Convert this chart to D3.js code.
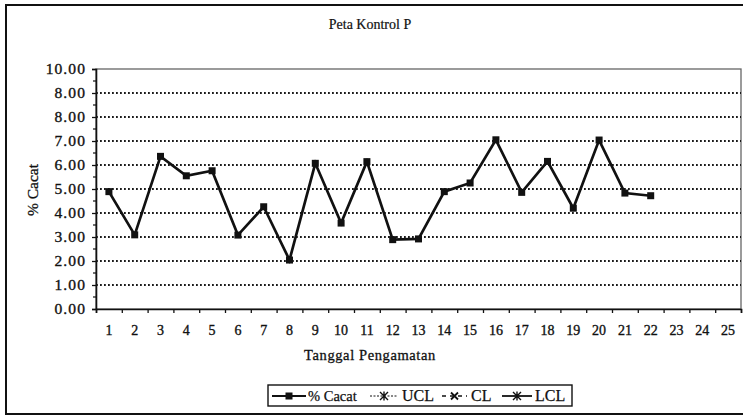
<!DOCTYPE html>
<html><head><meta charset="utf-8">
<script src="https://cdn.jsdelivr.net/npm/d3@7/dist/d3.min.js"></script>
<style>
html,body{margin:0;padding:0;background:#fff;}
svg{display:block;font-family:"Liberation Serif","Times New Roman",serif;}
</style></head>
<body>
<svg id="c" width="743" height="416"></svg>
<script>
const days = d3.range(1, 26); // Tanggal 1..25
const cacat = [4.89, 3.09, 6.36, 5.55, 5.76, 3.08, 4.26, 2.04, 6.07, 3.58, 6.14, 2.89,
               2.92, 4.89, 5.25, 7.05, 4.86, 6.15, 4.20, 7.04, 4.83, 4.72];
const ucl = [], cl = [], lcl = [];
const yTickValues = [0,1,2,3,4,5,6,7,8,9,10];
const yTickLabels = ["0.00","1.00","2.00","3.00","4.00","5.00","6.00","7.00","8.00","8.00","10.00"];
const legendNames = ["% Cacat","UCL","CL","LCL"];

const svg = d3.select("#c");
const L = 96, R = 741, T = 69, B = 309;
const ink = "#111";

// outer frame
svg.append("rect").attr("x",6).attr("y",5).attr("width",745).attr("height",409)
  .attr("fill","none").attr("stroke",ink).attr("stroke-width",2);

const x = d3.scaleLinear().domain([0.5, 25.5]).range([L, R]);
const y = d3.scaleLinear().domain([0, 10]).range([B, T]);

// plot border (top/right grey)
svg.append("rect").attr("x",L).attr("y",T).attr("width",R-L).attr("height",B-T)
  .attr("fill","none").attr("stroke","#666").attr("stroke-width",1.3);

// gridlines
svg.append("g").selectAll("line").data(yTickValues.filter(v => v>0 && v<10)).join("line")
  .attr("x1",L).attr("x2",R).attr("y1",d=>y(d)).attr("y2",d=>y(d))
  .attr("stroke","#1a1a1a").attr("stroke-width",1.8).attr("stroke-dasharray","1.8,2.2");

// y axis
const yAxis = svg.append("g").attr("transform",`translate(${L},0)`)
  .call(d3.axisLeft(y).tickValues(yTickValues).tickFormat((d,i)=>yTickLabels[i]).tickSize(4).tickPadding(6));
yAxis.select(".domain").attr("stroke",ink).attr("stroke-width",1.6);
yAxis.selectAll(".tick line").attr("stroke",ink).attr("stroke-width",1.3);
yAxis.selectAll("text").attr("font-family","Liberation Serif, serif").attr("font-size",15.5)
  .attr("letter-spacing","1.1px").attr("fill",ink).attr("stroke",ink).attr("stroke-width",0.35);
svg.append("g").selectAll("line").data(d3.range(0.5,10,1)).join("line")
  .attr("x1",L-3).attr("x2",L).attr("y1",d=>y(d)).attr("y2",d=>y(d))
  .attr("stroke",ink).attr("stroke-width",1.2);

// x axis
const xAxis = svg.append("g").attr("transform",`translate(0,${B})`)
  .call(d3.axisBottom(x).tickValues(d3.range(0.5, 26, 1)).tickFormat("").tickSize(4));
xAxis.select(".domain").attr("stroke",ink).attr("stroke-width",1.6);
xAxis.selectAll(".tick line").attr("stroke",ink).attr("stroke-width",1.3);
svg.append("g").selectAll("text").data(days).join("text")
  .attr("x",d=>x(d)).attr("y",B+26).attr("text-anchor","middle")
  .attr("font-size",14).attr("fill",ink).attr("stroke",ink).attr("stroke-width",0.35).text(d=>d);

// series
const line = d3.line().x((d,i)=>x(days[i])).y(d=>y(d));
svg.append("path").datum(cacat).attr("d",line).attr("fill","none")
  .attr("stroke",ink).attr("stroke-width",2.7).attr("stroke-linejoin","miter");
svg.append("g").selectAll("rect").data(cacat).join("rect")
  .attr("x",(d,i)=>x(days[i])-3.5).attr("y",d=>y(d)-3.5).attr("width",7).attr("height",7)
  .attr("fill",ink);

// titles
svg.append("text").attr("x",370).attr("y",29).attr("text-anchor","middle")
  .attr("font-size",14).attr("fill",ink).attr("stroke",ink).attr("stroke-width",0.2).text("Peta Kontrol P");
svg.append("text").attr("x",370).attr("y",360).attr("text-anchor","middle")
  .attr("font-size",14.5).attr("letter-spacing","0.6px").attr("fill",ink)
  .attr("stroke",ink).attr("stroke-width",0.3).text("Tanggal Pengamatan");
svg.append("text").attr("transform","translate(38,190) rotate(-90)").attr("text-anchor","middle")
  .attr("font-size",15.5).attr("fill",ink).attr("stroke",ink).attr("stroke-width",0.3).text("% Cacat");

// legend
const lg = svg.append("g");
lg.append("rect").attr("x",268).attr("y",385).attr("width",304).attr("height",21)
  .attr("fill","#fff").attr("stroke",ink).attr("stroke-width",1.4);
const items = [
  {name:legendNames[0], x0:272, x1:306, tx:308, dash:null, w:2.2, mk:"sq"},
  {name:legendNames[1], x0:370, x1:398, tx:402, dash:"2,1.5", w:1, mk:"star"},
  {name:legendNames[2], x0:442, x1:467, tx:471, dash:"4,4", w:1.5, mk:"x"},
  {name:legendNames[3], x0:502, x1:532, tx:535, dash:null, w:1.8, mk:"star"}
];
const ly = 396;
items.forEach(it=>{
  lg.append("line").attr("x1",it.x0).attr("x2",it.x1).attr("y1",ly).attr("y2",ly)
    .attr("stroke",ink).attr("stroke-width",it.w).attr("stroke-dasharray",it.dash);
  const cx=(it.x0+it.x1)/2;
  if(it.mk==="sq"){
    lg.append("rect").attr("x",cx-3.5).attr("y",ly-3.5).attr("width",7).attr("height",7).attr("fill",ink);
  } else if(it.mk==="x"){
    lg.append("path").attr("d",`M${cx-3.5},${ly-3.5}L${cx+3.5},${ly+3.5}M${cx+3.5},${ly-3.5}L${cx-3.5},${ly+3.5}`)
      .attr("stroke",ink).attr("stroke-width",1.8);
  } else {
    lg.append("path").attr("d",`M${cx-4},${ly-4}L${cx+4},${ly+4}M${cx+4},${ly-4}L${cx-4},${ly+4}M${cx},${ly-4.5}L${cx},${ly+4.5}`)
      .attr("stroke",ink).attr("stroke-width",1.4);
  }
  lg.append("text").attr("x",it.tx).attr("y",ly+5).attr("font-size",it.name==="% Cacat"?14.5:16)
    .attr("fill",ink).attr("stroke",ink).attr("stroke-width",0.25).text(it.name);
});
</script>
</body></html>
